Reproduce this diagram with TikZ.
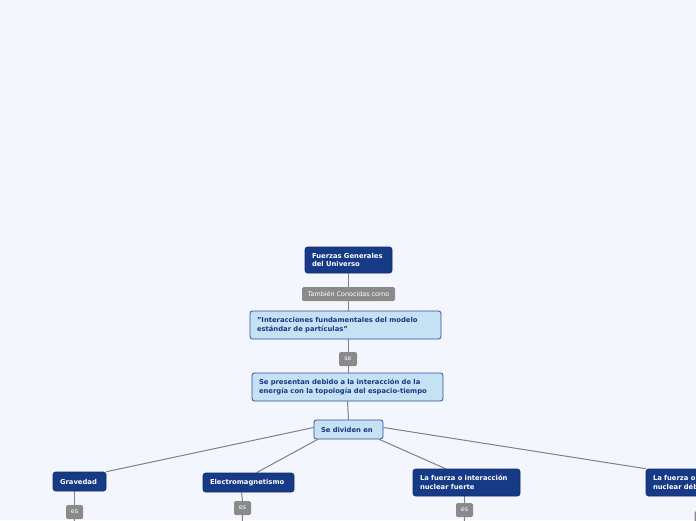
\documentclass[tikz,border=0pt]{standalone}
\usepackage{fontspec}
\setmainfont{DejaVu Sans}
\usetikzlibrary{backgrounds}
\definecolor{bg}{HTML}{F3F6FD}
\definecolor{darkbox}{HTML}{173A86}
\definecolor{darkedge}{HTML}{0E2C6A}
\definecolor{lightbox}{HTML}{C6E0F4}
\definecolor{lightedge}{HTML}{2C519A}
\definecolor{lighttext}{HTML}{163A80}
\definecolor{lbl}{HTML}{8A8A8A}
\definecolor{conn}{HTML}{808088}
\begin{document}
\begin{tikzpicture}[x=1pt,y=-1pt,
  darknode/.style={fill=darkbox,draw=darkedge,line width=0.6pt,rounded corners=2.5pt,text=white,font=\bfseries\fontsize{6.8}{8.4}\selectfont,align=left,inner xsep=7pt,inner ysep=0pt,anchor=center},
  lightnode/.style={fill=lightbox,draw=lightedge,line width=0.8pt,rounded corners=2.5pt,text=lighttext,font=\bfseries\fontsize{6.8}{8.4}\selectfont,align=left,inner xsep=7pt,inner ysep=0pt,anchor=center},
  lblnode/.style={fill=lbl,draw=none,rounded corners=1.5pt,text=white,font=\fontsize{6.4}{7}\selectfont,inner sep=0pt,anchor=center},
  conline/.style={draw=conn,line width=1pt}]
\useasboundingbox (0,0) rectangle (696,520);

\node[darknode,minimum width=87,minimum height=26,text width=73] (fz) at (348.5,260) {Fuerzas Generales\\del Universo};
\node[lblnode,minimum width=93,minimum height=14] (tc) at (348.5,294) {También Conocidas como};
\node[lightnode,minimum width=191,minimum height=28,text width=177] (int) at (345.5,325) {"Interacciones fundamentales del modelo\\estándar de partículas"};
\node[lblnode,minimum width=18,minimum height=14] (se) at (348,359) {se};
\node[lightnode,minimum width=191,minimum height=28,text width=177] (pre) at (347.5,387) {Se presentan debido a la interacción de la\\energía con la topología del espacio-tiempo};
\node[lightnode,minimum width=69,minimum height=19,text width=55] (div) at (348.5,429.5) {Se dividen en};
\node[darknode,minimum width=53,minimum height=19,text width=39] (gra) at (79.5,481.5) {Gravedad};
\node[darknode,minimum width=91,minimum height=19,text width=77] (ele) at (248.5,482.5) {Electromagnetismo};
\node[darknode,minimum width=107,minimum height=27,text width=93] (fue) at (466.5,482.5) {La fuerza o interacción\\nuclear fuerte};
\node[darknode,minimum width=107,minimum height=27,text width=93] (deb) at (699.5,482.5) {La fuerza o interacción\\nuclear débil};
\node[lblnode,minimum width=17,minimum height=14] (es1) at (74.5,512) {es};
\node[lblnode,minimum width=17,minimum height=14] (es2) at (242.5,508) {es};
\node[lblnode,minimum width=17,minimum height=14] (es3) at (464.5,510) {es};
\node[lblnode,minimum width=17,minimum height=14] (es4) at (703,518) {es};
\coordinate (b1) at (74,530);
\coordinate (b2) at (242,530);
\coordinate (b3) at (464,530);

\begin{pgfonlayer}{background}
\fill[bg] (0,0) rectangle (696,520);
\draw[conline] (fz.south) -- (tc.north);
\draw[conline] (tc.south) -- (int.north -| fz.south);
\draw[conline] (int.south -| se.north) -- (se.north);
\draw[conline] (se.south) -- (pre.north -| se.south);
\draw[conline] (pre.south) -- (div.north);
\draw[conline] ([yshift=2]div.west) -- (gra.north east);
\draw[conline] ([xshift=4]div.south west) -- ([xshift=8]ele.north);
\draw[conline] ([xshift=-4]div.south east) -- ([xshift=-21]fue.north);
\draw[conline] ([yshift=2]div.east) -- (deb.north west);
\draw[conline] ([xshift=-5]gra.south) -- (es1.north);
\draw[conline] (es1.south) -- (b1);
\draw[conline] ([xshift=-7]ele.south) -- (es2.north);
\draw[conline] (es2.south) -- (b2);
\draw[conline] ([xshift=-2]fue.south) -- (es3.north);
\draw[conline] (es3.south) -- (b3);
\end{pgfonlayer}
\end{tikzpicture}
\end{document}
